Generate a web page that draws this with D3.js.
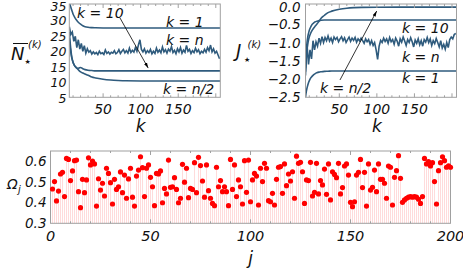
<!DOCTYPE html>
<meta charset="utf-8">
<style>
  body { margin: 0; background: #fff; }
  text { font-family: "DejaVu Sans", sans-serif; font-style: italic; fill: #111; }
  .frame { fill: none; stroke: #a0a0a0; stroke-width: 1; }
  .tick { stroke: #a0a0a0; stroke-width: 1; }
  path.line { fill: none; stroke: #2f5b7d; stroke-width: 1.6; }
  line.stem { stroke: #ff0000; stroke-opacity: 0.14; stroke-width: 1; }
  circle.dot { fill: #ff0000; }
  line.arrow { stroke: #000; stroke-width: 0.8; }
</style>
<body>
<script src="https://cdn.jsdelivr.net/npm/d3@7"></script>
<script>

// ---- data ----
var kSmooth = [5, 6, 7, 8, 9, 10, 12, 14, 16, 18, 20, 23, 26, 30, 35, 40, 50, 60, 70, 80, 100, 130, 160, 206];

var nK1   = [35.6, 34.8, 34.0, 33.2, 32.5, 31.8, 30.8, 30.0, 29.4, 28.9, 28.5, 28.0, 27.7, 27.5, 27.4, 27.35, 27.3, 27.3, 27.3, 27.3, 27.3, 27.3, 27.3, 27.3];
var nK10  = [26.0, 23.0, 20.5, 18.5, 17.2, 16.3, 15.2, 14.6, 14.3, 14.4, 14.6, 14.2, 13.9, 13.7, 13.6, 13.5, 13.5, 13.5, 13.5, 13.5, 13.5, 13.5, 13.5, 13.5];
var nKn2  = [24.0, 21.5, 19.5, 18.0, 17.0, 16.2, 15.2, 14.6, 14.1, 13.6, 13.2, 12.8, 12.5, 12.1, 11.5, 11.2, 10.8, 10.55, 10.4, 10.3, 10.25, 10.25, 10.25, 10.25];

var jK1   = [-2.5, -2.35, -2.25, -2.17, -2.1, -2.05, -1.97, -1.92, -1.88, -1.85, -1.83, -1.81, -1.8, -1.79, -1.785, -1.78, -1.78, -1.78, -1.78, -1.78, -1.78, -1.78, -1.78, -1.78];
var jK10  = [-1.9, -1.3, -1.0, -0.85, -0.75, -0.67, -0.57, -0.5, -0.46, -0.43, -0.42, -0.4, -0.39, -0.385, -0.385, -0.385, -0.385, -0.385, -0.385, -0.385, -0.385, -0.385, -0.385, -0.385];
var jKn2  = [-1.7, -1.45, -1.2, -1.05, -0.93, -0.85, -0.74, -0.66, -0.6, -0.55, -0.5, -0.42, -0.33, -0.26, -0.18, -0.14, -0.09, -0.06, -0.045, -0.037, -0.032, -0.03, -0.03, -0.03];

// k = n series, sampled every 2 steps from k = 5 to 205
var kNoisy = d3.range(5, 206, 2);
var nKn = [27.7, 25.2, 26.0, 23.0, 24.6, 21.0, 23.5, 20.5, 22.3, 19.8, 21.6, 19.2, 20.6, 19.5, 20.0, 18.9, 19.6, 19.0, 19.4, 18.7,
           19.8, 19.0, 19.3, 18.8, 20.2, 19.1, 19.6, 18.9, 19.5, 19.2, 20.0, 19.0, 19.4, 20.3, 19.1, 19.8, 20.4, 19.3, 20.0, 19.2,
           20.8, 19.4, 20.1, 19.5, 21.0, 19.8, 21.8, 23.5, 20.4, 19.6, 20.6, 19.2, 20.0, 19.4, 20.4, 19.0, 19.8, 19.1, 20.8, 19.5,
           20.2, 19.3, 21.2, 19.6, 20.3, 19.2, 20.5, 19.8, 21.3, 19.4, 20.1, 19.0, 20.6, 19.6, 21.0, 19.2, 20.2, 19.5, 21.7, 19.8,
           20.4, 19.1, 20.0, 19.4, 20.8, 19.6, 20.3, 19.0, 19.8, 19.3, 20.4, 19.5, 21.0, 20.0, 21.8, 19.6, 20.6, 19.2, 19.8, 18.6, 17.4];
var jKn = [-1.80, -1.05, -1.60, -1.20, -1.45, -0.95, -1.20, -0.98, -1.10, -0.88, -1.02, -0.84, -1.00, -0.86, -0.95, -0.82, -0.96, -0.88, -1.00, -0.85,
           -0.92, -0.86, -0.98, -0.90, -0.84, -0.95, -0.87, -1.00, -0.92, -0.85, -0.97, -0.88, -0.94, -0.86, -0.99, -0.90, -0.96, -0.88, -0.95, -1.02,
           -0.90, -0.98, -0.92, -1.05, -0.95, -1.08, -1.00, -1.20, -1.46, -1.10, -0.94, -1.00, -0.88, -0.97, -0.90, -1.02, -0.86, -0.98, -0.92, -1.05,
           -0.88, -0.96, -1.10, -0.90, -0.99, -0.85, -0.96, -1.08, -0.92, -1.00, -0.87, -0.98, -1.12, -0.93, -1.02, -0.90, -1.06, -0.95, -1.10, -0.92,
           -0.99, -0.86, -1.00, -0.90, -1.08, -0.95, -1.03, -0.89, -1.00, -1.12, -0.95, -1.15, -1.05, -1.18, -1.00, -1.14, -0.92, -0.85, -0.90, -0.78, -0.75];

// Omega_j for j = 1..200
var omega = [0.467, 0.503, 0.409, 0.457, 0.540, 0.548, 0.430, 0.616, 0.611, 0.508,
             0.555, 0.605, 0.608, 0.454, 0.376, 0.514, 0.449, 0.511, 0.619, 0.584,
             0.603, 0.589, 0.384, 0.517, 0.462, 0.495, 0.433, 0.568, 0.543, 0.498,
             0.394, 0.514, 0.465, 0.478, 0.550, 0.449, 0.535, 0.422, 0.516, 0.568,
             0.427, 0.384, 0.530, 0.559, 0.624, 0.571, 0.430, 0.568, 0.584, 0.524,
             0.478, 0.386, 0.543, 0.540, 0.555, 0.400, 0.470, 0.443, 0.608, 0.475,
             0.478, 0.522, 0.465, 0.400, 0.422, 0.587, 0.500, 0.568, 0.425, 0.470,
             0.465, 0.595, 0.449, 0.621, 0.581, 0.506, 0.427, 0.584, 0.459, 0.422,
             0.397, 0.386, 0.573, 0.478, 0.508, 0.454, 0.478, 0.454, 0.386, 0.611,
             0.465, 0.584, 0.430, 0.511, 0.478, 0.394, 0.605, 0.451, 0.608, 0.405,
             0.511, 0.543, 0.530, 0.389, 0.568, 0.503, 0.592, 0.568, 0.410, 0.405,
             0.446, 0.389, 0.514, 0.573, 0.576, 0.446, 0.589, 0.483, 0.540, 0.506,
             0.551, 0.422, 0.627, 0.592, 0.597, 0.551, 0.397, 0.511, 0.508, 0.597,
             0.433, 0.451, 0.592, 0.443, 0.508, 0.487, 0.564, 0.441, 0.589, 0.414,
             0.551, 0.538, 0.522, 0.592, 0.443, 0.474, 0.579, 0.589, 0.535, 0.402,
             0.381, 0.405, 0.535, 0.548, 0.611, 0.474, 0.548, 0.384, 0.589, 0.462,
             0.475, 0.559, 0.454, 0.589, 0.514, 0.514, 0.495, 0.422, 0.579, 0.573,
             0.389, 0.524, 0.556, 0.629, 0.519, 0.402, 0.414, 0.422, 0.427, 0.430,
             0.427, 0.430, 0.427, 0.417, 0.397, 0.430, 0.616, 0.589, 0.600, 0.579,
             0.595, 0.503, 0.394, 0.556, 0.595, 0.624, 0.605, 0.573, 0.580, 0.573];

var nTicks = [5, 10, 15, 20, 25, 30, 35];
var jTicks = [-2.5, -2.0, -1.5, -1.0, -0.5, 0.0];
var kTicks = [50, 100, 150];
var omegaTicks = [0.3, 0.4, 0.5, 0.6];
var jIdxTicks = [0, 50, 100, 150, 200];

// annotation labels: [text, k, value]
var nLabels = [["k = 10", 15.3, 30.5], ["k = 1", 133.7, 27.45], ["k = n", 133.7, 21.66], ["k = n/2", 129.7, 6.06]];
var jLabels = [["k = 10", 133.5, -0.74], ["k = n", 133.5, -1.533], ["k = 1", 133.5, -2.108], ["k = n/2", 24.3, -2.382]];
var nArrow = [[72.5, 30.5], [110, 14.4]];
var jArrow = [[50.9, -2.026], [99.8, -0.137]];

// ---- drawing ----
var svg = d3.select("body").append("svg")
        .attr("width", 463)
        .attr("height", 280);

var defs = svg.append("defs");
defs.append("marker")
        .attr("id", "head")
        .attr("viewBox", "0 0 10 10")
        .attr("refX", 10).attr("refY", 5)
        .attr("markerWidth", 7).attr("markerHeight", 7)
        .attr("orient", "auto")
        .append("path").attr("d", "M0,2 L10,5 L0,8 Z").attr("fill", "#000");

var minus = function(v) { return (v < 0 ? "\u2212" : "") + d3.format(".1f")(Math.abs(v)); };

function panel(id, x, y) {
    var g = svg.append("g");
    var x0 = x.range()[0], x1 = x.range()[1], y0 = y.range()[1], y1 = y.range()[0];
    defs.append("clipPath").attr("id", id)
            .append("rect").attr("x", x0).attr("y", y0).attr("width", x1 - x0).attr("height", y1 - y0);
    return g;
}

function frame(g, x, y, xMinor) {
    var x0 = x.range()[0], x1 = x.range()[1], y0 = y.range()[1], y1 = y.range()[0];
    xMinor.forEach(function(v) {
        var len = v % 50 === 0 ? 4 : 2;
        g.append("line").attr("class", "tick").attr("x1", x(v)).attr("x2", x(v)).attr("y1", y1).attr("y2", y1 - len);
        g.append("line").attr("class", "tick").attr("x1", x(v)).attr("x2", x(v)).attr("y1", y0).attr("y2", y0 + len);
    });
    g.append("rect").attr("class", "frame")
            .attr("x", x0).attr("y", y0).attr("width", x1 - x0).attr("height", y1 - y0);
}

// top left: N bar
var xN = d3.scaleLinear().domain([5, 206]).range([69.3, 220.3]);
var yN = d3.scaleLinear().domain([5, 35]).range([97.3, 4]);
var gN = panel("clipN", xN, yN);
var lineN = d3.line().x(function(d) { return xN(d[0]); }).y(function(d) { return yN(d[1]); }).curve(d3.curveMonotoneX);
[nK1, nK10, nKn2].forEach(function(s) {
    gN.append("path").attr("class", "line").attr("clip-path", "url(#clipN)")
            .attr("d", lineN(d3.zip(kSmooth, s)));
});
gN.append("path").attr("class", "line").attr("clip-path", "url(#clipN)")
        .attr("d", lineN.curve(d3.curveLinear)(d3.zip(kNoisy, nKn)));
frame(gN, xN, yN, d3.range(10, 206, 10));
nTicks.forEach(function(v) {
    gN.append("text").attr("x", 66.5).attr("y", Math.max(yN(v) + 5.5, 10.5)).attr("text-anchor", "end")
            .attr("font-size", 12.5).text(v);
});
kTicks.forEach(function(v) {
    gN.append("text").attr("x", xN(v)).attr("y", 114).attr("text-anchor", "middle")
            .attr("font-size", 14).text(v);
});
gN.append("text").attr("x", xN(100)).attr("y", 132).attr("text-anchor", "middle").attr("font-size", 17).text("k");
nLabels.forEach(function(l) {
    gN.append("text").attr("x", xN(l[1])).attr("y", yN(l[2])).attr("font-size", 14).text(l[0]);
});
gN.append("line").attr("class", "arrow")
        .attr("x1", xN(nArrow[0][0])).attr("y1", yN(nArrow[0][1]))
        .attr("x2", xN(nArrow[1][0])).attr("y2", yN(nArrow[1][1]))
        .attr("marker-end", "url(#head)");
// y label: N-bar star (k)
gN.append("text").attr("x", 11).attr("y", 60).attr("font-size", 18).text("N");
gN.append("line").attr("x1", 13).attr("x2", 28).attr("y1", 43.5).attr("y2", 43.5).attr("stroke", "#111").attr("stroke-width", 1);
gN.append("text").attr("x", 24.5).attr("y", 64).attr("font-size", 7).attr("font-style", "normal").text("\u2605");
gN.append("text").attr("x", 28).attr("y", 47.5).attr("font-size", 10).text("(k)");

// top right: J
var xJ = d3.scaleLinear().domain([5, 206]).range([305.5, 456.5]);
var yJ = d3.scaleLinear().domain([-2.5, 0.055]).range([97.3, 4]);
var gJ = panel("clipJ", xJ, yJ);
var lineJ = d3.line().x(function(d) { return xJ(d[0]); }).y(function(d) { return yJ(d[1]); }).curve(d3.curveMonotoneX);
[jK1, jK10, jKn2].forEach(function(s) {
    gJ.append("path").attr("class", "line").attr("clip-path", "url(#clipJ)")
            .attr("d", lineJ(d3.zip(kSmooth, s)));
});
gJ.append("path").attr("class", "line").attr("clip-path", "url(#clipJ)")
        .attr("d", lineJ.curve(d3.curveLinear)(d3.zip(kNoisy, jKn)));
frame(gJ, xJ, yJ, d3.range(10, 206, 10));
jTicks.forEach(function(v) {
    gJ.append("text").attr("x", 300.5).attr("y", Math.max(yJ(v) + 5, 11.5)).attr("text-anchor", "end")
            .attr("font-size", 13.5).text(minus(v));
});
kTicks.forEach(function(v) {
    gJ.append("text").attr("x", xJ(v)).attr("y", 114).attr("text-anchor", "middle")
            .attr("font-size", 14).text(v);
});
gJ.append("text").attr("x", xJ(100)).attr("y", 132).attr("text-anchor", "middle").attr("font-size", 17).text("k");
jLabels.forEach(function(l) {
    gJ.append("text").attr("x", xJ(l[1])).attr("y", yJ(l[2])).attr("font-size", 14).text(l[0]);
});
gJ.append("line").attr("class", "arrow")
        .attr("x1", xJ(jArrow[0][0])).attr("y1", yJ(jArrow[0][1]))
        .attr("x2", xJ(jArrow[1][0])).attr("y2", yJ(jArrow[1][1]))
        .attr("marker-end", "url(#head)");
gJ.append("text").attr("x", 236).attr("y", 57).attr("font-size", 18).text("J");
gJ.append("text").attr("x", 244).attr("y", 62).attr("font-size", 7).attr("font-style", "normal").text("\u2605");
gJ.append("text").attr("x", 247.5).attr("y", 47.5).attr("font-size", 10).text("(k)");

// bottom: Omega_j
var xO = d3.scaleLinear().domain([0, 200]).range([50.5, 450.5]);
var yO = d3.scaleLinear().domain([0.3, 0.652]).range([223.3, 151]);
var gO = panel("clipO", xO, yO);
gO.selectAll("line.stem").data(omega).enter()
        .append("line").attr("class", "stem")
        .attr("x1", function(d, i) { return xO(i + 1); })
        .attr("x2", function(d, i) { return xO(i + 1); })
        .attr("y1", function(d) { return yO(d); })
        .attr("y2", yO(0.3));
frame(gO, xO, yO, d3.range(10, 200, 10));
gO.selectAll("circle.dot").data(omega).enter()
        .append("circle").attr("class", "dot")
        .attr("cx", function(d, i) { return xO(i + 1); })
        .attr("cy", function(d) { return yO(d); })
        .attr("r", 2.6);
omegaTicks.forEach(function(v) {
    gO.append("text").attr("x", 46.5).attr("y", yO(v) + 4.5).attr("text-anchor", "end")
            .attr("font-size", 13.5).text(d3.format(".1f")(v));
});
jIdxTicks.forEach(function(v) {
    gO.append("text").attr("x", xO(v)).attr("y", 241).attr("text-anchor", "middle")
            .attr("font-size", 14.5).text(v);
});
gO.append("text").attr("x", xO(100)).attr("y", 264).attr("text-anchor", "middle").attr("font-size", 17).text("j");
gO.append("text").attr("x", 7).attr("y", 189).attr("font-size", 14).attr("font-style", "normal").text("\u03a9");
gO.append("text").attr("x", 18).attr("y", 193).attr("font-size", 10).text("j");

</script>
